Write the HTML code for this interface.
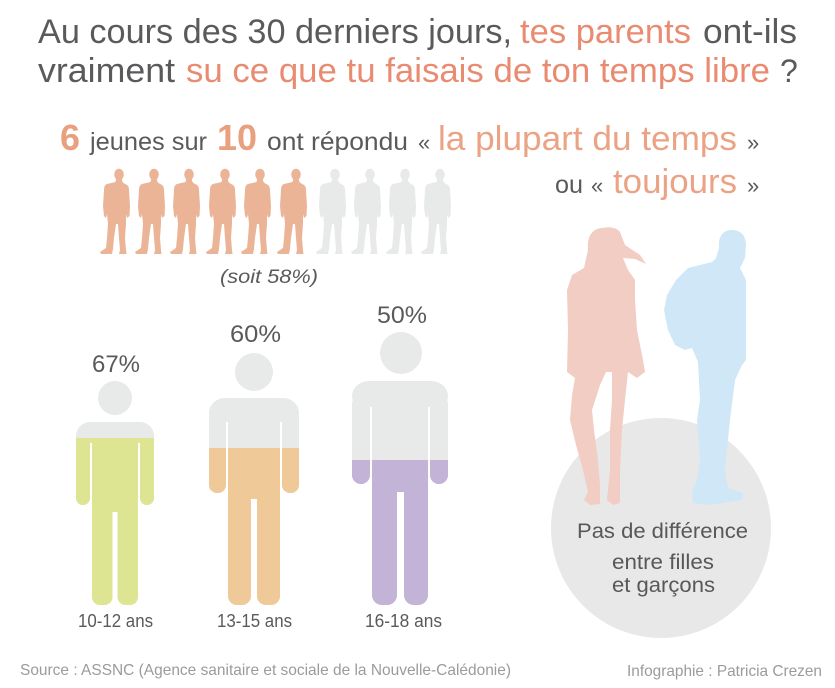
<!DOCTYPE html>
<html>
<head>
<meta charset="utf-8">
<style>
html,body{margin:0;padding:0;background:#fff;}
svg{display:block;}
text{font-family:"Liberation Sans",sans-serif;}
</style>
</head>
<body>
<svg width="835" height="688" viewBox="0 0 835 688" xmlns="http://www.w3.org/2000/svg">
<rect width="835" height="688" fill="#fff"/>

<!-- Title -->
<text x="38" y="43" font-size="34" fill="#5a5a5c" textLength="474" lengthAdjust="spacingAndGlyphs">Au cours des 30 derniers jours,</text>
<text x="520" y="43" font-size="34" fill="#e98b71" textLength="171" lengthAdjust="spacingAndGlyphs">tes parents</text>
<text x="703" y="43" font-size="34" fill="#5a5a5c" textLength="94" lengthAdjust="spacingAndGlyphs">ont-ils</text>
<text x="38" y="82" font-size="34" fill="#5a5a5c" textLength="137" lengthAdjust="spacingAndGlyphs">vraiment</text>
<text x="186" y="82" font-size="34" fill="#e98b71" textLength="584" lengthAdjust="spacingAndGlyphs">su ce que tu faisais de ton temps libre</text>
<text x="780" y="82" font-size="32" fill="#5a5a5c">?</text>

<!-- Subtitle -->
<text x="60" y="150" font-size="36" font-weight="bold" fill="#e9a07f" textLength="20" lengthAdjust="spacingAndGlyphs">6</text>
<text x="90" y="150" font-size="25" fill="#5a5a5c" textLength="117" lengthAdjust="spacingAndGlyphs">jeunes sur</text>
<text x="217" y="150" font-size="36" font-weight="bold" fill="#e9a07f" textLength="40" lengthAdjust="spacingAndGlyphs">10</text>
<text x="267" y="150" font-size="25" fill="#5a5a5c" textLength="141" lengthAdjust="spacingAndGlyphs">ont répondu</text>
<text x="418" y="150" font-size="22" fill="#5a5a5c">«</text>
<text x="438" y="150" font-size="34" fill="#eba385" textLength="299" lengthAdjust="spacingAndGlyphs">la plupart du temps</text>
<text x="747" y="150" font-size="22" fill="#5a5a5c">»</text>
<text x="555" y="193" font-size="25" fill="#5a5a5c" textLength="28" lengthAdjust="spacingAndGlyphs">ou</text>
<text x="591" y="193" font-size="22" fill="#5a5a5c">«</text>
<text x="613" y="193" font-size="34" fill="#eba385" textLength="124" lengthAdjust="spacingAndGlyphs">toujours</text>
<text x="747" y="193" font-size="22" fill="#5a5a5c">»</text>

<!-- Man icon definition -->
<defs>
  <g id="man">
    <ellipse cx="21" cy="6.5" rx="4.8" ry="5.8"/>
    <path d="M18.5,10 L17.5,14 L9,16 Q6,17 6,22 L5,38 L6,48 L8,50 L9,46 L10,56 L9,70 L8,80 L2,84 L3,86 L14,86 L15,81 L16,70 L18,56 L20,56 L21,70 L22,82 L21,86 L28.5,86 L28,82 L27,70 L28,56 L28,46 L29,50 L31.5,48 L32,38 L31,22 Q31,17 27,16 L24.5,14 L23.5,10 Z"/>
  </g>
  <clipPath id="c1"><rect x="0" y="438" width="835" height="250"/></clipPath>
  <clipPath id="c2"><rect x="0" y="448" width="835" height="250"/></clipPath>
  <clipPath id="c3"><rect x="0" y="460" width="835" height="250"/></clipPath>
  <g id="f1">
    <rect x="76" y="422" width="78" height="30" rx="14"/>
    <rect x="76" y="432" width="14" height="73" rx="7"/>
    <rect x="140" y="432" width="14" height="73" rx="7"/>
    <rect x="92" y="430" width="46" height="82"/>
    <rect x="92" y="495" width="20.5" height="110" rx="8"/>
    <rect x="117.5" y="495" width="20.5" height="110" rx="8"/>
  </g>
  <g id="f2">
    <rect x="209" y="398" width="90" height="30" rx="16"/>
    <rect x="209" y="410" width="17" height="83" rx="8"/>
    <rect x="282" y="410" width="17" height="83" rx="8"/>
    <rect x="228" y="405" width="52" height="94"/>
    <rect x="228" y="480" width="23" height="125" rx="9"/>
    <rect x="257" y="480" width="23" height="125" rx="9"/>
  </g>
  <g id="f3">
    <rect x="352" y="381" width="96" height="30" rx="17"/>
    <rect x="352" y="395" width="18" height="89" rx="9"/>
    <rect x="430" y="395" width="18" height="89" rx="9"/>
    <rect x="372" y="390" width="56" height="102"/>
    <rect x="372" y="470" width="25" height="135" rx="10"/>
    <rect x="404" y="470" width="24" height="135" rx="10"/>
  </g>
</defs>

<g fill="#ebb496">
  <use href="#man" x="98" y="168"/>
  <use href="#man" x="133" y="168"/>
  <use href="#man" x="168" y="168"/>
  <use href="#man" x="204" y="168"/>
  <use href="#man" x="239" y="168"/>
  <use href="#man" x="275" y="168"/>
</g>
<g fill="#e8e9e9">
  <use href="#man" x="314" y="168"/>
  <use href="#man" x="349" y="168"/>
  <use href="#man" x="384" y="168"/>
  <use href="#man" x="419" y="168"/>
</g>
<text x="220" y="283" font-size="19" font-style="italic" fill="#5a5a5c" textLength="98" lengthAdjust="spacingAndGlyphs">(soit 58%)</text>

<!-- Age figures -->
<g fill="#e8e9e9">
  <circle cx="115" cy="398" r="17"/>
  <circle cx="254" cy="372" r="19"/>
  <circle cx="401" cy="353" r="21"/>
  <use href="#f1"/>
  <use href="#f2"/>
  <use href="#f3"/>
</g>
<g fill="#dde592" clip-path="url(#c1)"><use href="#f1"/></g>
<g fill="#f0c998" clip-path="url(#c2)"><use href="#f2"/></g>
<g fill="#c3b3d6" clip-path="url(#c3)"><use href="#f3"/></g>
<g fill="#fff">
  <rect x="90" y="443" width="2" height="62"/>
  <rect x="138" y="443" width="2" height="62"/>
  <rect x="226" y="422" width="2" height="71"/>
  <rect x="280" y="422" width="2" height="71"/>
  <rect x="370" y="407" width="2" height="77"/>
  <rect x="428" y="407" width="2" height="77"/>
</g>

<text x="92" y="372" font-size="24" fill="#5a5a5c" textLength="48" lengthAdjust="spacingAndGlyphs">67%</text>
<text x="230" y="342" font-size="24" fill="#5a5a5c" textLength="51" lengthAdjust="spacingAndGlyphs">60%</text>
<text x="377" y="323" font-size="24" fill="#5a5a5c" textLength="50" lengthAdjust="spacingAndGlyphs">50%</text>

<text x="78" y="627" font-size="18" fill="#5a5a5c" textLength="75" lengthAdjust="spacingAndGlyphs">10-12 ans</text>
<text x="217" y="627" font-size="18" fill="#5a5a5c" textLength="75" lengthAdjust="spacingAndGlyphs">13-15 ans</text>
<text x="365" y="627" font-size="18" fill="#5a5a5c" textLength="77" lengthAdjust="spacingAndGlyphs">16-18 ans</text>

<!-- Right side -->
<circle cx="661" cy="528" r="110" fill="#e8e8e8"/>
<path fill="#f1cdc3" d="M603,228 C590,228 587,240 588,250 L584,268 L572,275 L567,290 L568,330 L567,372 L575,378 L572,395 L570,420 L576,445 L583,470 L588,492 L584,500 L590,505 L600,504 L600,485 L598,460 L594,430 L592,410 L600,385 L606,372 L612,372 L612,400 L610,430 L610,470 L607,500 L613,505 L620,503 L620,470 L622,430 L625,400 L628,372 L637,378 L645,372 L643,360 L637,330 L635,300 L635,280 L628,270 L623,258 L635,259 L646,264 L640,255 L625,245 L620,232 C617,228 610,226 603,228 Z"/>
<path fill="#cfe7f6" d="M732,230 C722,230 718,238 719,248 L716,258 L712,262 L700,265 L688,268 L676,280 L667,295 L664,310 L668,330 L675,345 L685,350 L692,348 L698,362 L700,400 L697,420 L700,460 L697,480 L692,490 L693,503 L710,505 L728,502 L742,500 L743,493 L728,488 L725,470 L730,420 L735,380 L742,365 L746,360 L746,280 L740,268 L745,258 L746,245 C746,235 740,230 732,230 Z"/>

<text x="577" y="538" font-size="21" fill="#58585a" textLength="171" lengthAdjust="spacingAndGlyphs">Pas de différence</text>
<text x="612" y="569" font-size="21" fill="#58585a" textLength="102" lengthAdjust="spacingAndGlyphs">entre filles</text>
<text x="612" y="592" font-size="21" fill="#58585a" textLength="103" lengthAdjust="spacingAndGlyphs">et garçons</text>

<!-- Footer -->
<text x="20" y="675" font-size="16" fill="#9b9b9b" textLength="491" lengthAdjust="spacingAndGlyphs">Source : ASSNC (Agence sanitaire et sociale de la Nouvelle-Calédonie)</text>
<text x="627" y="676" font-size="16" fill="#9b9b9b" textLength="195" lengthAdjust="spacingAndGlyphs">Infographie : Patricia Crezen</text>
</svg>
</body>
</html>
